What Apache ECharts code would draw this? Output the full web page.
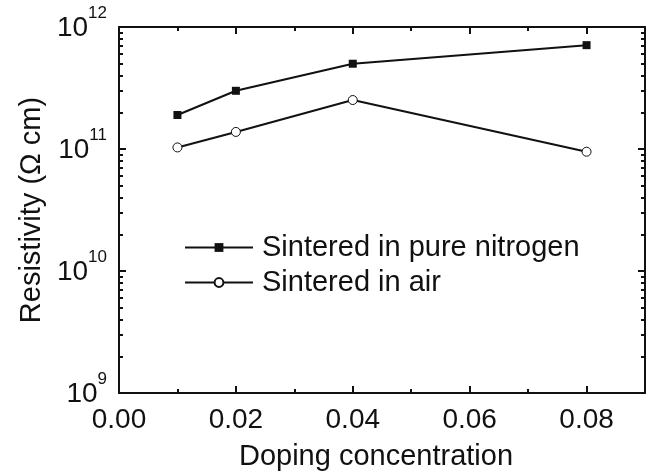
<!DOCTYPE html>
<html>
<head>
    <meta charset="UTF-8">
    <title>Resistivity vs doping concentration</title>
    <script src="https://cdn.jsdelivr.net/npm/echarts@6/dist/echarts.min.js"></script>
    <style>
        * { margin: 0; padding: 0; }
        body { background: #fff; }
        #chart { width: 649px; height: 476px; }
    </style>
</head>
<body>
    <div id="chart"></div>
    <script>
        // data
        const doping = [0.01, 0.02, 0.04, 0.08];
        const nitrogen = [1.9e11, 3.0e11, 5.0e11, 7.1e11];
        const air = [1.03e11, 1.38e11, 2.52e11, 9.5e10];
        const seriesNames = ['Sintered in pure nitrogen', 'Sintered in air'];

        // tick values
        const xMajor = [0, 0.02, 0.04, 0.06, 0.08];
        const xMinor = [0.01, 0.03, 0.05, 0.07, 0.09];
        const yMajor = [1e9, 1e10, 1e11, 1e12];
        const yMinor = [];
        for (let e = 9; e < 12; e++) {
            for (let m = 2; m <= 9; m++) yMinor.push(m * Math.pow(10, e));
        }

        const font = 'Liberation Sans, Arial, sans-serif';
        const ink = '#111';

        function pairs(xs, ys) {
            return xs.map((x, i) => [x, ys[i]]);
        }

        function xAxis(pos, ticks, len, showLine, showLabel) {
            return {
                type: 'value', position: pos, min: 0, max: 0.09,
                axisLine: { show: showLine, onZero: false, lineStyle: { color: ink, width: 2 } },
                axisTick: { show: true, inside: true, length: len, customValues: ticks,
                            lineStyle: { color: ink, width: 2 } },
                axisLabel: { show: showLabel, customValues: xMajor, margin: 13,
                             formatter: v => v.toFixed(2),
                             fontFamily: font, fontSize: 28, color: ink },
                splitLine: { show: false }
            };
        }

        function yAxis(pos, ticks, len, showLine, showLabel) {
            return {
                type: 'log', logBase: 10, position: pos, min: 1e9, max: 1e12,
                axisLine: { show: showLine, onZero: false, lineStyle: { color: ink, width: 2 } },
                axisTick: { show: true, inside: true, length: len, customValues: ticks,
                            lineStyle: { color: ink, width: 2 } },
                axisLabel: {
                    show: showLabel, customValues: yMajor, margin: 12,
                    formatter: v => '{a|10}{b|' + Math.round(Math.log10(v)) + '}',
                    rich: {
                        a: { fontFamily: font, fontSize: 28, color: ink, lineHeight: 30, verticalAlign: 'bottom' },
                        b: { fontFamily: font, fontSize: 17, color: ink, lineHeight: 17,
                             verticalAlign: 'bottom', padding: [0, 0, 20, 0] }
                    }
                },
                splitLine: { show: false }
            };
        }

        const chart = echarts.init(document.getElementById('chart'));

        const xAxes = [
            xAxis('bottom', xMajor, 7, true, true),
            xAxis('bottom', xMinor, 4, false, false),
            xAxis('top', xMajor, 7, true, false),
            xAxis('top', xMinor, 4, false, false)
        ];
        xAxes[0].name = 'Doping concentration';
        xAxes[0].nameLocation = 'middle';
        xAxes[0].nameGap = 49;
        xAxes[0].nameTextStyle = { fontFamily: font, fontSize: 29, color: ink, padding: [0, 12, 0, 0] };

        const yAxes = [
            yAxis('left', yMajor, 7, true, true),
            yAxis('left', yMinor, 4, false, false),
            yAxis('right', yMajor, 7, true, false),
            yAxis('right', yMinor, 4, false, false)
        ];
        yAxes[0].name = 'Resistivity (\u03A9 cm)';
        yAxes[0].nameLocation = 'middle';
        yAxes[0].nameGap = 70;
        yAxes[0].nameTextStyle = { fontFamily: font, fontSize: 29, color: ink };

        chart.setOption({
            backgroundColor: '#fff',
            animation: false,
            grid: { left: 119, right: 4, top: 27, bottom: 82 },
            legend: {
                orient: 'vertical', left: 179, top: 228,
                itemWidth: 68, itemHeight: 11, itemGap: 6,
                textStyle: { fontFamily: font, fontSize: 29, color: ink, padding: [0, 0, 0, 4] },
                data: seriesNames
            },
            xAxis: xAxes,
            yAxis: yAxes,
            series: [
                {
                    name: seriesNames[0], type: 'line',
                    data: pairs(doping, nitrogen),
                    symbol: 'rect', symbolSize: 8,
                    lineStyle: { color: ink, width: 2 },
                    itemStyle: { color: ink }
                },
                {
                    name: seriesNames[1], type: 'line',
                    data: pairs(doping, air),
                    symbol: 'circle', symbolSize: 9,
                    lineStyle: { color: ink, width: 2 },
                    itemStyle: { color: '#fff', borderColor: ink, borderWidth: 1 }
                }
            ]
        });
    </script>
</body>
</html>
